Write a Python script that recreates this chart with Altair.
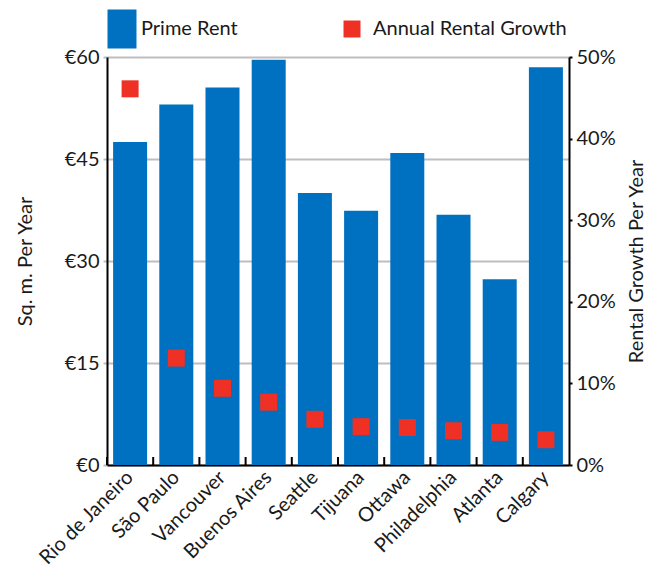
import altair as alt
import pandas as pd

cities = ["Rio de Janeiro", "São Paulo", "Vancouver", "Buenos Aires", "Seattle",
          "Tijuana", "Ottawa", "Philadelphia", "Atlanta", "Calgary"]
prime_rent = [47.5, 53.0, 55.5, 59.6, 40.0, 37.4, 45.9, 36.8, 27.3, 58.5]
rental_growth = [46.1, 13.1, 9.4, 7.7, 5.6, 4.7, 4.6, 4.2, 4.0, 3.1]
rent_ticks = [0, 15, 30, 45, 60]
growth_ticks = [0, 10, 20, 30, 40, 50]
rent_name = "Prime Rent"
growth_name = "Annual Rental Growth"
rent_color = "#0070C0"
growth_color = "#EE3124"

df = pd.DataFrame({"city": cities, "rent": prime_rent, "growth": rental_growth})

FONT = "Lato"
TXT = "#1a1a1a"
W, H = 462, 408

x_enc = alt.X("city:N", sort=cities,
              scale=alt.Scale(paddingInner=0.264, paddingOuter=0.132),
              axis=alt.Axis(title=None, labelAngle=315, labelAlign="right",
                            labelBaseline="middle", labelFontSize=20, labelFont=FONT,
                            labelColor=TXT, labelPadding=9, ticks=False,
                            domainColor="black", domainWidth=2, grid=False))

blue_path = "M-1.47,-2.29H1.94V2.29H-1.47Z"


def make_legend(x, shape):
    return alt.Legend(
        title=None, orient="none", legendX=x, legendY=-38, direction="horizontal",
        symbolSize=289, symbolType=shape, symbolStrokeWidth=0, symbolOpacity=1,
        labelFont=FONT, labelFontSize=20, labelColor=TXT, labelOffset=11,
        labelLimit=400, padding=0)


bars = alt.Chart(df).transform_calculate(series=f"'{rent_name}'").mark_bar().encode(
    x=x_enc,
    y=alt.Y("rent:Q", scale=alt.Scale(domain=[0, 60], nice=False),
            axis=alt.Axis(title="Sq. m. Per Year", orient="left", values=rent_ticks,
                          labelExpr="'€' + datum.value", labelFontSize=20,
                          labelFont=FONT, labelColor=TXT, titleFont=FONT,
                          titleFontSize=20, titleFontWeight="normal", titleColor=TXT,
                          titlePadding=29, domainColor="black", domainWidth=2,
                          tickColor="#BDBDC2", tickSize=4, tickWidth=2,
                          gridColor="#BDBDC2", gridWidth=2, labelPadding=4)),
    color=alt.Color("series:N", scale=alt.Scale(domain=[rent_name], range=[rent_color]),
                    legend=make_legend(3, blue_path)),
)

ticks = alt.Chart(df).mark_rule(color="black", strokeWidth=2, xOffset=-23.1).encode(
    x=alt.X("city:N", sort=cities),
    y=alt.value(H - 8),
    y2=alt.value(H),
)

squares = alt.Chart(df).transform_calculate(series2=f"'{growth_name}'").mark_square(
    size=289, opacity=1, filled=True).encode(
    x=alt.X("city:N", sort=cities),
    y=alt.Y("growth:Q", scale=alt.Scale(domain=[0, 50], nice=False),
            axis=alt.Axis(title="Rental Growth Per Year", orient="right", values=growth_ticks,
                          labelExpr="datum.value + '%'", labelFontSize=20,
                          labelFont=FONT, labelColor=TXT, titleFont=FONT,
                          titleFontSize=20, titleFontWeight="normal", titleColor=TXT,
                          titleAngle=270, titlePadding=31, domainColor="black",
                          domainWidth=2, tickColor="black", tickSize=3, tickWidth=2,
                          grid=False, labelPadding=4)),
    fill=alt.Fill("series2:N", scale=alt.Scale(domain=[growth_name], range=[growth_color]),
                  legend=make_legend(235, "square")),
)

chart = alt.layer(bars, ticks, squares).resolve_scale(y="independent").properties(
    width=W, height=H,
    autosize=alt.AutoSizeParams(type="none"),
    padding={"left": 99, "top": 49, "right": 79, "bottom": 102},
).configure_view(stroke=None).configure(background="white")

chart.save("out.html", embed_options={"renderer": "svg", "actions": False})
